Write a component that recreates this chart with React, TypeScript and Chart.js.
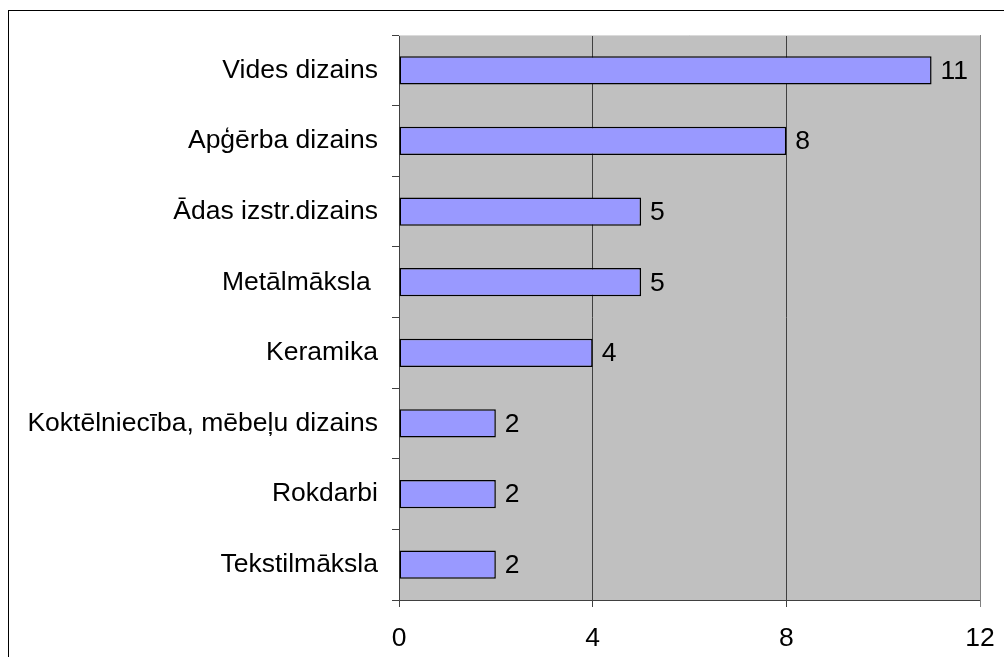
import React, { useEffect, useRef } from "react";
import { Chart, registerables } from "chart.js";

Chart.register(...registerables);

const categories = [
  "Vides dizains",
  "Apģērba dizains",
  "Ādas izstr.dizains",
  "Metālmāksla ",
  "Keramika",
  "Koktēlniecība, mēbeļu dizains",
  "Rokdarbi",
  "Tekstilmāksla",
];
const values = [11, 8, 5, 5, 4, 2, 2, 2];
const xTicks = [0, 4, 8, 12];

const FONT = "'Liberation Sans', Arial, sans-serif";
const FSIZE = 26.5;

const plotBg = {
  id: "plotBg",
  beforeDraw(chart: any) {
    const { ctx, chartArea: a } = chart;
    ctx.save();
    ctx.fillStyle = "#FFFFFF";
    ctx.fillRect(0, 0, chart.width, chart.height);
    ctx.strokeStyle = "#000000";
    ctx.lineWidth = 1;
    ctx.strokeRect(8.5, 10.5, 1100, 800);
    ctx.fillStyle = "#C0C0C0";
    ctx.fillRect(a.left, a.top, a.right - a.left, a.bottom - a.top);
    ctx.restore();
  },
  afterDraw(chart: any) {
    const { ctx, chartArea: a } = chart;
    ctx.save();
    ctx.lineWidth = 1;
    ctx.strokeStyle = "#DADADA";
    ctx.beginPath();
    ctx.moveTo(a.left, a.top + 0.5);
    ctx.lineTo(a.right, a.top + 0.5);
    ctx.stroke();
    ctx.strokeStyle = "#808080";
    ctx.beginPath();
    ctx.moveTo(a.right + 0.5, a.top);
    ctx.lineTo(a.right + 0.5, a.bottom + 7);
    ctx.stroke();
    ctx.restore();
  },
};

const valueLabels = {
  id: "valueLabels",
  afterDatasetsDraw(chart: any) {
    const { ctx } = chart;
    const meta = chart.getDatasetMeta(0);
    ctx.save();
    ctx.fillStyle = "#000000";
    ctx.font = `${FSIZE}px ${FONT}`;
    ctx.textAlign = "left";
    ctx.textBaseline = "middle";
    meta.data.forEach((bar: any, i: number) => {
      ctx.fillText(String(values[i]), bar.x + 9, bar.y + 1);
    });
    ctx.restore();
  },
};

export default function App() {
  const ref = useRef<HTMLCanvasElement>(null);
  useEffect(() => {
    if (!ref.current) return;
    const chart = new Chart(ref.current, {
      type: "bar",
      data: {
        labels: categories,
        datasets: [
          {
            data: values,
            backgroundColor: "#9999FF",
            borderColor: "#000000",
            borderWidth: 1.5,
            borderSkipped: false,
            barPercentage: 0.8,
            categoryPercentage: 0.5,
          },
        ],
      },
      options: {
        indexAxis: "y",
        animation: false,
        responsive: false,
        maintainAspectRatio: false,
        layout: { padding: { top: 35, right: 24, left: 0, bottom: 0 } },
        plugins: { legend: { display: false }, tooltip: { enabled: false } },
        scales: {
          x: {
            type: "linear",
            min: 0,
            max: 12,
            afterBuildTicks(scale: any) {
              scale.ticks = xTicks.map((v) => ({ value: v }));
            },
            afterFit(scale: any) {
              scale.height = 57;
              scale.paddingLeft = 0;
              scale.paddingRight = 0;
            },
            ticks: {
              color: "#000000",
              font: { family: FONT, size: FSIZE },
              padding: 16,
            },
            grid: {
              color: (c: any) =>
                c.tick && (c.tick.value === 4 || c.tick.value === 8)
                  ? "#404040"
                  : "rgba(0,0,0,0)",
              tickColor: "#404040",
              tickLength: 7,
              lineWidth: 1,
            },
            border: { display: true, color: "#404040", width: 1 },
          },
          y: {
            type: "category",
            offset: true,
            afterFit(scale: any) {
              scale.width = 399;
              scale.paddingTop = 0;
              scale.paddingBottom = 0;
            },
            ticks: {
              color: "#000000",
              font: { family: FONT, size: FSIZE },
              padding: 14,
            },
            grid: {
              offset: true,
              drawOnChartArea: false,
              tickColor: "#404040",
              tickLength: 7,
            },
            border: { display: true, color: "#404040", width: 1 },
          },
        },
      },
      plugins: [plotBg, valueLabels],
    });
    return () => chart.destroy();
  }, []);
  return (
    <div style={{ position: "fixed", left: 0, top: 0, width: 1004, height: 657 }}>
      <canvas ref={ref} width={1004} height={657} style={{ display: "block" }} />
    </div>
  );
}
